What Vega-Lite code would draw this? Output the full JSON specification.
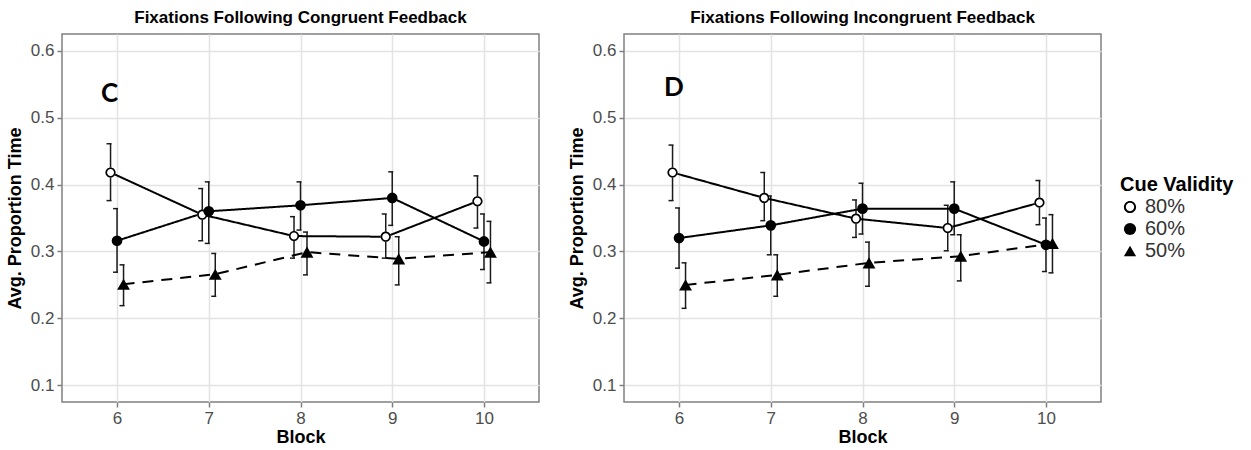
{
  "$schema": "https://vega.github.io/schema/vega-lite/v6.json",
  "padding": {"left": 5, "top": 8, "right": 5, "bottom": 5},
  "background": "white",
  "datasets": {
    "obs": [
      {"panel": "C", "cue": "80%", "block": 6, "mean": 0.418, "lo": 0.376, "hi": 0.461},
      {"panel": "C", "cue": "80%", "block": 7, "mean": 0.355, "lo": 0.316, "hi": 0.394},
      {"panel": "C", "cue": "80%", "block": 8, "mean": 0.323, "lo": 0.290, "hi": 0.352},
      {"panel": "C", "cue": "80%", "block": 9, "mean": 0.322, "lo": 0.290, "hi": 0.356},
      {"panel": "C", "cue": "80%", "block": 10, "mean": 0.375, "lo": 0.335, "hi": 0.413},
      {"panel": "C", "cue": "60%", "block": 6, "mean": 0.316, "lo": 0.269, "hi": 0.364},
      {"panel": "C", "cue": "60%", "block": 7, "mean": 0.360, "lo": 0.312, "hi": 0.404},
      {"panel": "C", "cue": "60%", "block": 8, "mean": 0.369, "lo": 0.332, "hi": 0.404},
      {"panel": "C", "cue": "60%", "block": 9, "mean": 0.380, "lo": 0.339, "hi": 0.419},
      {"panel": "C", "cue": "60%", "block": 10, "mean": 0.315, "lo": 0.273, "hi": 0.356},
      {"panel": "C", "cue": "50%", "block": 6, "mean": 0.251, "lo": 0.219, "hi": 0.280},
      {"panel": "C", "cue": "50%", "block": 7, "mean": 0.266, "lo": 0.233, "hi": 0.297},
      {"panel": "C", "cue": "50%", "block": 8, "mean": 0.299, "lo": 0.265, "hi": 0.329},
      {"panel": "C", "cue": "50%", "block": 9, "mean": 0.289, "lo": 0.250, "hi": 0.322},
      {"panel": "C", "cue": "50%", "block": 10, "mean": 0.299, "lo": 0.253, "hi": 0.345},
      {"panel": "D", "cue": "80%", "block": 6, "mean": 0.418, "lo": 0.376, "hi": 0.459},
      {"panel": "D", "cue": "80%", "block": 7, "mean": 0.380, "lo": 0.346, "hi": 0.418},
      {"panel": "D", "cue": "80%", "block": 8, "mean": 0.349, "lo": 0.321, "hi": 0.377},
      {"panel": "D", "cue": "80%", "block": 9, "mean": 0.335, "lo": 0.301, "hi": 0.369},
      {"panel": "D", "cue": "80%", "block": 10, "mean": 0.373, "lo": 0.340, "hi": 0.406},
      {"panel": "D", "cue": "60%", "block": 6, "mean": 0.320, "lo": 0.275, "hi": 0.365},
      {"panel": "D", "cue": "60%", "block": 7, "mean": 0.339, "lo": 0.295, "hi": 0.383},
      {"panel": "D", "cue": "60%", "block": 8, "mean": 0.364, "lo": 0.326, "hi": 0.402},
      {"panel": "D", "cue": "60%", "block": 9, "mean": 0.364, "lo": 0.325, "hi": 0.404},
      {"panel": "D", "cue": "60%", "block": 10, "mean": 0.310, "lo": 0.270, "hi": 0.350},
      {"panel": "D", "cue": "50%", "block": 6, "mean": 0.250, "lo": 0.215, "hi": 0.283},
      {"panel": "D", "cue": "50%", "block": 7, "mean": 0.265, "lo": 0.233, "hi": 0.295},
      {"panel": "D", "cue": "50%", "block": 8, "mean": 0.283, "lo": 0.248, "hi": 0.314},
      {"panel": "D", "cue": "50%", "block": 9, "mean": 0.293, "lo": 0.256, "hi": 0.325},
      {"panel": "D", "cue": "50%", "block": 10, "mean": 0.312, "lo": 0.268, "hi": 0.355}
    ],
    "letters": [
      {"panel": "C", "label": "C", "block": 5.92, "mean": 0.535},
      {"panel": "D", "label": "D", "block": 5.945, "mean": 0.545}
    ]
  },
  "hconcat": [
    {
      "width": 477,
      "height": 368,
      "title": "Fixations Following Congruent Feedback",
      "data": {"name": "obs"},
      "transform": [{"filter": "datum.panel === 'C'"}],
      "encoding": {
        "x": {
          "field": "block", "type": "quantitative",
          "scale": {"domain": [5.4, 10.6], "nice": false, "zero": false},
          "axis": {"values": [6, 7, 8, 9, 10], "format": "d", "title": "Block", "titlePadding": 2}
        }
      },
      "layer": [
        {
          "mark": {"type": "rule", "color": "#1a1a1a", "strokeWidth": 1.5, "xOffset": {"expr": "datum.cue === '80%' ? -6.5 : datum.cue === '50%' ? 6.5 : 0"}},
          "encoding": {
            "y": {"field": "lo", "type": "quantitative", "scale": {"domain": [0.075, 0.625], "nice": false, "zero": false},
              "axis": {"title": "Avg. Proportion Time", "values": [0.1, 0.15, 0.2, 0.25, 0.3, 0.35, 0.4, 0.45, 0.5, 0.55, 0.6],
                "labelExpr": "abs(datum.value * 10 - round(datum.value * 10)) < 0.01 ? format(datum.value, '.1f') : ''",
                "gridColor": {"condition": {"test": "abs(datum.value * 10 - round(datum.value * 10)) < 0.01", "value": "#e3e3e3"}, "value": "#f3f3f3"},
                "gridWidth": {"condition": {"test": "abs(datum.value * 10 - round(datum.value * 10)) < 0.01", "value": 1.5}, "value": 1},
                "tickOpacity": {"condition": {"test": "abs(datum.value * 10 - round(datum.value * 10)) < 0.01", "value": 1}, "value": 0},
                "titlePadding": 6}},
            "y2": {"field": "hi"}
          }
        },
        {
          "mark": {"type": "tick", "orient": "horizontal", "size": 5, "thickness": 1.5, "color": "#1a1a1a", "opacity": 1, "xOffset": {"expr": "datum.cue === '80%' ? -8 : datum.cue === '50%' ? 5 : -1.5"}},
          "encoding": {"y": {"field": "lo", "type": "quantitative", "title": "Avg. Proportion Time"}}
        },
        {
          "mark": {"type": "tick", "orient": "horizontal", "size": 5, "thickness": 1.5, "color": "#1a1a1a", "opacity": 1, "xOffset": {"expr": "datum.cue === '80%' ? -8 : datum.cue === '50%' ? 5 : -1.5"}},
          "encoding": {"y": {"field": "hi", "type": "quantitative", "title": "Avg. Proportion Time"}}
        },
        {
          "mark": {"type": "line", "color": "black", "strokeWidth": 2, "strokeDash": {"expr": "datum.cue === '50%' ? [11, 8] : [1, 0]"}, "xOffset": {"expr": "datum.cue === '80%' ? -6.5 : datum.cue === '50%' ? 6.5 : 0"}},
          "encoding": {
            "y": {"field": "mean", "type": "quantitative", "title": "Avg. Proportion Time"},
            "detail": {"field": "cue", "type": "nominal"}
          }
        },
        {
          "transform": [{"filter": "datum.cue === '80%'"}],
          "mark": {"type": "point", "shape": "circle", "filled": true, "color": "white", "opacity": 1, "size": 100, "xOffset": -6.5},
          "encoding": {"y": {"field": "mean", "type": "quantitative", "title": "Avg. Proportion Time"}}
        },
        {
          "mark": {"type": "point", "filled": true, "color": "black", "opacity": 1, "size": {"expr": "datum.cue === '50%' ? 165 : datum.cue === '60%' ? 115 : 105"}, "xOffset": {"expr": "datum.cue === '80%' ? -6.5 : datum.cue === '50%' ? 6.5 : 0"}},
          "encoding": {
            "y": {"field": "mean", "type": "quantitative", "title": "Avg. Proportion Time"},
            "shape": {"field": "cue", "type": "nominal",
              "scale": {"domain": ["80%", "60%", "50%"], "range": ["M1,0A1,1 0 1 1 -1,0A1,1 0 1 1 1,0ZM0.68,0A0.68,0.68 0 1 0 -0.68,0A0.68,0.68 0 1 0 0.68,0Z", "circle", "triangle-up"]},
              "legend": {"title": "Cue Validity"}}
          }
        },
        {
          "data": {"name": "letters"},
          "transform": [{"filter": "datum.panel === 'C'"}],
          "mark": {"type": "text", "font": "Lato", "fontWeight": "bold", "fontSize": 26, "align": "center", "baseline": "middle", "color": "black"},
          "encoding": {"y": {"field": "mean", "type": "quantitative", "title": "Avg. Proportion Time"}, "text": {"field": "label"}}
        }
      ]
    },
    {
      "width": 477,
      "height": 368,
      "title": "Fixations Following Incongruent Feedback",
      "data": {"name": "obs"},
      "transform": [{"filter": "datum.panel === 'D'"}],
      "encoding": {
        "x": {
          "field": "block", "type": "quantitative",
          "scale": {"domain": [5.4, 10.6], "nice": false, "zero": false},
          "axis": {"values": [6, 7, 8, 9, 10], "format": "d", "title": "Block", "titlePadding": 2}
        }
      },
      "layer": [
        {
          "mark": {"type": "rule", "color": "#1a1a1a", "strokeWidth": 1.5, "xOffset": {"expr": "datum.cue === '80%' ? -6.5 : datum.cue === '50%' ? 6.5 : 0"}},
          "encoding": {
            "y": {"field": "lo", "type": "quantitative", "scale": {"domain": [0.075, 0.625], "nice": false, "zero": false},
              "axis": {"title": "Avg. Proportion Time", "values": [0.1, 0.15, 0.2, 0.25, 0.3, 0.35, 0.4, 0.45, 0.5, 0.55, 0.6],
                "labelExpr": "abs(datum.value * 10 - round(datum.value * 10)) < 0.01 ? format(datum.value, '.1f') : ''",
                "gridColor": {"condition": {"test": "abs(datum.value * 10 - round(datum.value * 10)) < 0.01", "value": "#e3e3e3"}, "value": "#f3f3f3"},
                "gridWidth": {"condition": {"test": "abs(datum.value * 10 - round(datum.value * 10)) < 0.01", "value": 1.5}, "value": 1},
                "tickOpacity": {"condition": {"test": "abs(datum.value * 10 - round(datum.value * 10)) < 0.01", "value": 1}, "value": 0},
                "titlePadding": 6}},
            "y2": {"field": "hi"}
          }
        },
        {
          "mark": {"type": "tick", "orient": "horizontal", "size": 5, "thickness": 1.5, "color": "#1a1a1a", "opacity": 1, "xOffset": {"expr": "datum.cue === '80%' ? -8 : datum.cue === '50%' ? 5 : -1.5"}},
          "encoding": {"y": {"field": "lo", "type": "quantitative", "title": "Avg. Proportion Time"}}
        },
        {
          "mark": {"type": "tick", "orient": "horizontal", "size": 5, "thickness": 1.5, "color": "#1a1a1a", "opacity": 1, "xOffset": {"expr": "datum.cue === '80%' ? -8 : datum.cue === '50%' ? 5 : -1.5"}},
          "encoding": {"y": {"field": "hi", "type": "quantitative", "title": "Avg. Proportion Time"}}
        },
        {
          "mark": {"type": "line", "color": "black", "strokeWidth": 2, "strokeDash": {"expr": "datum.cue === '50%' ? [11, 8] : [1, 0]"}, "xOffset": {"expr": "datum.cue === '80%' ? -6.5 : datum.cue === '50%' ? 6.5 : 0"}},
          "encoding": {
            "y": {"field": "mean", "type": "quantitative", "title": "Avg. Proportion Time"},
            "detail": {"field": "cue", "type": "nominal"}
          }
        },
        {
          "transform": [{"filter": "datum.cue === '80%'"}],
          "mark": {"type": "point", "shape": "circle", "filled": true, "color": "white", "opacity": 1, "size": 100, "xOffset": -6.5},
          "encoding": {"y": {"field": "mean", "type": "quantitative", "title": "Avg. Proportion Time"}}
        },
        {
          "mark": {"type": "point", "filled": true, "color": "black", "opacity": 1, "size": {"expr": "datum.cue === '50%' ? 165 : datum.cue === '60%' ? 115 : 105"}, "xOffset": {"expr": "datum.cue === '80%' ? -6.5 : datum.cue === '50%' ? 6.5 : 0"}},
          "encoding": {
            "y": {"field": "mean", "type": "quantitative", "title": "Avg. Proportion Time"},
            "shape": {"field": "cue", "type": "nominal",
              "scale": {"domain": ["80%", "60%", "50%"], "range": ["M1,0A1,1 0 1 1 -1,0A1,1 0 1 1 1,0ZM0.68,0A0.68,0.68 0 1 0 -0.68,0A0.68,0.68 0 1 0 0.68,0Z", "circle", "triangle-up"]},
              "legend": {"title": "Cue Validity"}}
          }
        },
        {
          "data": {"name": "letters"},
          "transform": [{"filter": "datum.panel === 'D'"}],
          "mark": {"type": "text", "font": "Lato", "fontWeight": "bold", "fontSize": 26, "align": "center", "baseline": "middle", "color": "black"},
          "encoding": {"y": {"field": "mean", "type": "quantitative", "title": "Avg. Proportion Time"}, "text": {"field": "label"}}
        }
      ]
    }
  ],
  "spacing": 27,
  "resolve": {
    "scale": {"shape": "shared"},
    "legend": {"shape": "shared"}
  },
  "config": {
    "font": "Liberation Sans",
    "view": {"stroke": "#808080", "strokeWidth": 1.5},
    "title": {"fontSize": 17, "fontWeight": "bold", "color": "black", "anchor": "middle", "frame": "group", "offset": 7},
    "axis": {
      "domain": false,
      "grid": true,
      "gridColor": "#e3e3e3",
      "gridWidth": 1.5,
      "tickColor": "#7f7f7f",
      "tickWidth": 1.5,
      "tickSize": 5,
      "labelFontSize": 17,
      "labelColor": "#4d4d4d",
      "labelPadding": 3,
      "titleFontSize": 18,
      "titleFontWeight": "bold",
      "titleColor": "black"
    },
    "legend": {
      "orient": "right",
      "offset": 18,
      "titleFontSize": 20,
      "titleFontWeight": "bold",
      "titleColor": "black",
      "titlePadding": 2,
      "labelFontSize": 20,
      "labelColor": "#333333",
      "labelOffset": 5,
      "rowPadding": 2,
      "symbolSize": 150,
      "symbolFillColor": "black",
      "symbolStrokeWidth": 0,
      "layout": {"right": {"anchor": "middle"}}
    }
  }
}
